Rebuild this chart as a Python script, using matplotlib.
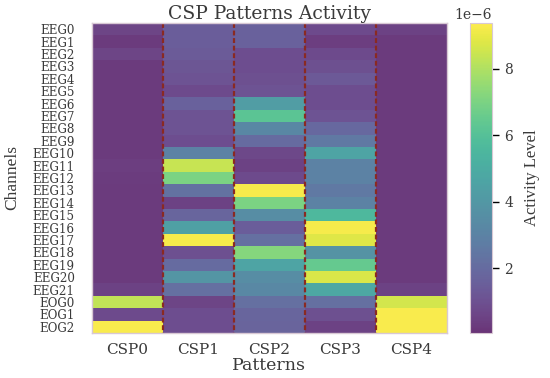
import numpy as np
from matplotlib import pyplot as plt

channels = ['EEG%d' % i for i in range(22)] + ['EOG0', 'EOG1', 'EOG2']
patterns = ['CSP0', 'CSP1', 'CSP2', 'CSP3', 'CSP4']

csp0 = [0.6, 0.3, 0.6, 0.3, 0.3, 0.3, 0.3, 0.3, 0.3, 0.3, 0.3, 0.4, 0.35, 0.3, 0.3,
        0.3, 0.3, 0.3, 0.3, 0.3, 0.3, 0.5, 8.3, 0.8, 9.3]
csp1 = [1.5, 1.5, 1.4, 1.2, 1.1, 0.8, 1.6, 1.1, 1.1, 0.9, 3.0, 8.4, 7.0, 2.3, 0.5,
        1.8, 4.4, 9.2, 1.0, 2.0, 3.9, 2.2, 0.6, 0.9, 0.9]
csp2 = [1.6, 1.6, 0.9, 0.9, 1.0, 1.1, 4.3, 6.2, 3.2, 2.0, 0.7, 0.5, 0.8, 9.2, 7.0,
        3.5, 1.5, 2.2, 7.2, 4.6, 3.5, 3.3, 2.2, 1.8, 1.7]
csp3 = [0.8, 0.4, 0.8, 1.0, 1.3, 0.9, 0.9, 1.1, 1.9, 2.6, 4.6, 3.0, 3.0, 2.6, 3.0,
        5.6, 9.2, 8.8, 3.8, 6.5, 8.7, 4.8, 2.2, 1.0, 0.5]
csp4 = [0.5, 0.3, 0.3, 0.3, 0.3, 0.3, 0.3, 0.3, 0.3, 0.3, 0.3, 0.3, 0.3, 0.3, 0.3,
        0.3, 0.3, 0.3, 0.3, 0.3, 0.3, 0.5, 8.6, 9.3, 9.3]

data = np.array([csp0, csp1, csp2, csp3, csp4]).T * 1e-6

plt.rcParams['font.family'] = 'DejaVu Serif'
text_col = '#3a3a3a'

fig = plt.figure(figsize=(5.5, 3.78), dpi=100)
ax = fig.add_axes([91.5 / 550, 1 - 333 / 378, 355.5 / 550, 310 / 378])
cax = fig.add_axes([470 / 550, 1 - 333 / 378, 22 / 550, 310 / 378])

mesh = ax.pcolormesh(data, cmap='viridis', vmin=0.06e-6, vmax=9.38e-6, alpha=0.8, linewidth=0)
ax.invert_yaxis()

# dashed separators between the patterns
ax.vlines(range(1, 5), 0, len(channels), color='#8a2a22', linewidth=1.6, linestyle=(0, (2.2, 1.2)))

ax.set_xticks(np.arange(len(patterns)) + 0.5)
ax.set_xticklabels(patterns, fontsize=11, color=text_col)
ax.set_yticks(np.arange(len(channels)) + 0.5)
ax.set_yticklabels(channels, fontsize=8.6, color=text_col)
ax.tick_params(length=0)
ax.tick_params(axis='y', pad=12)
ax.tick_params(axis='x', pad=7)
for s in ax.spines.values():
    s.set_edgecolor('#d8c8d4')
    s.set_linewidth(1)

ax.set_title('CSP Patterns Activity', fontsize=13.5, color=text_col, pad=3)
ax.set_xlabel('Patterns', fontsize=12.5, color=text_col, labelpad=0)
ax.set_ylabel('Channels', fontsize=12.5, color=text_col, family='Liberation Serif')
ax.yaxis.set_label_coords(-0.2, 0.5)

cb = fig.colorbar(mesh, cax=cax)
cb.set_ticks([2e-6, 4e-6, 6e-6, 8e-6])
cb.ax.tick_params(labelsize=10, length=5, width=1, labelcolor=text_col, pad=4)
cb.ax.yaxis.get_offset_text().set_fontsize(10)
cb.ax.yaxis.get_offset_text().set_color(text_col)
cb.outline.set_edgecolor('#d8c8d4')
cb.set_label('Activity Level', fontsize=12, color=text_col, family='Liberation Serif', labelpad=8)

fig.savefig('out.png', dpi=100)
